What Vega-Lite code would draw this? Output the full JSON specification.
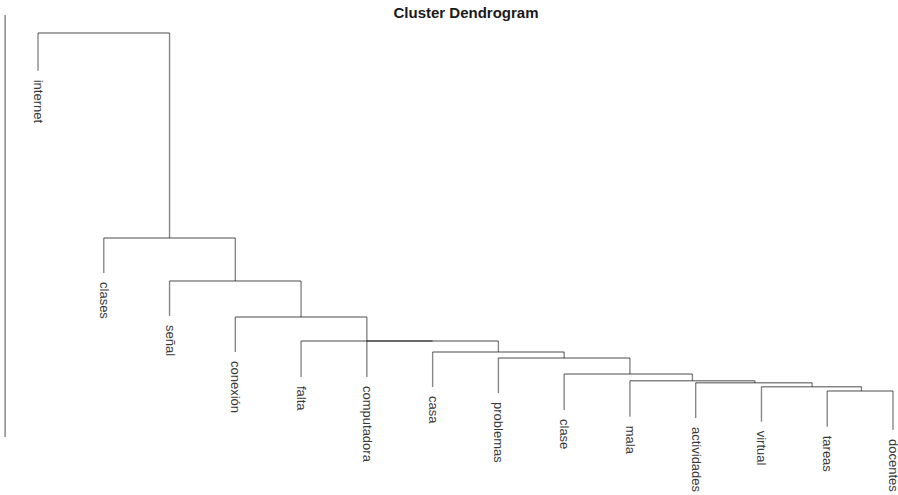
{
  "$schema": "https://vega.github.io/schema/vega-lite/v6.json",
  "width": 898,
  "height": 495,
  "padding": 0,
  "autosize": {"type": "none"},
  "background": "white",
  "title": {"text": "Cluster Dendrogram", "font": "Liberation Sans", "fontSize": 15, "fontWeight": "bold", "color": "#1a1a1a", "anchor": "middle", "dx": 17, "offset": -21, "frame": "group"},
  "config": {"view": {"stroke": null}},
  "datasets": {
    "segments": [
      {"x": 1, "x2": 3, "h": 95.73, "h2": 95.73},
      {"x": 1, "x2": 1, "h": 95.73, "h2": 86.8},
      {"x": 3, "x2": 3, "h": 95.73, "h2": 47.16},
      {"x": 2, "x2": 4, "h": 47.16, "h2": 47.16},
      {"x": 2, "x2": 2, "h": 47.16, "h2": 38.86},
      {"x": 4, "x2": 4, "h": 47.16, "h2": 36.97},
      {"x": 3, "x2": 5, "h": 36.97, "h2": 36.97},
      {"x": 3, "x2": 3, "h": 36.97, "h2": 28.67},
      {"x": 5, "x2": 5, "h": 36.97, "h2": 28.44},
      {"x": 4, "x2": 6, "h": 28.44, "h2": 28.44},
      {"x": 4, "x2": 4, "h": 28.44, "h2": 20.14},
      {"x": 6, "x2": 6, "h": 28.44, "h2": 14.22},
      {"x": 5, "x2": 7, "h": 22.75, "h2": 22.75},
      {"x": 6, "x2": 8, "h": 22.75, "h2": 22.75},
      {"x": 5, "x2": 5, "h": 22.75, "h2": 14.22},
      {"x": 8, "x2": 8, "h": 22.75, "h2": 20.14},
      {"x": 7, "x2": 9, "h": 20.14, "h2": 20.14},
      {"x": 7, "x2": 7, "h": 20.14, "h2": 11.85},
      {"x": 9, "x2": 9, "h": 20.14, "h2": 18.72},
      {"x": 8, "x2": 10, "h": 18.72, "h2": 18.72},
      {"x": 8, "x2": 8, "h": 18.72, "h2": 10.43},
      {"x": 10, "x2": 10, "h": 18.72, "h2": 14.93},
      {"x": 9, "x2": 10.95, "h": 14.93, "h2": 14.93},
      {"x": 9, "x2": 9, "h": 14.93, "h2": 6.4},
      {"x": 10.95, "x2": 10.95, "h": 14.93, "h2": 13.34},
      {"x": 10, "x2": 11.9, "h": 13.34, "h2": 13.34},
      {"x": 10, "x2": 10, "h": 13.34, "h2": 4.81},
      {"x": 11.9, "x2": 11.9, "h": 13.34, "h2": 12.87},
      {"x": 11, "x2": 12.77, "h": 12.87, "h2": 12.87},
      {"x": 11, "x2": 11, "h": 12.87, "h2": 4.5},
      {"x": 12.77, "x2": 12.77, "h": 12.87, "h2": 11.92},
      {"x": 12, "x2": 13.52, "h": 11.92, "h2": 11.92},
      {"x": 12, "x2": 12, "h": 11.92, "h2": 3.63},
      {"x": 13.52, "x2": 13.52, "h": 11.92, "h2": 10.9},
      {"x": 13, "x2": 14, "h": 10.9, "h2": 10.9},
      {"x": 13, "x2": 13, "h": 10.9, "h2": 2.44},
      {"x": 14, "x2": 14, "h": 10.9, "h2": 1.66}
    ],
    "axisline": [
      {"x": 0.5, "h": 0, "h2": 100}
    ],
    "leaves": [
      {"label": "internet", "x": 1, "h": 86.8},
      {"label": "clases", "x": 2, "h": 38.86},
      {"label": "señal", "x": 3, "h": 28.67},
      {"label": "conexión", "x": 4, "h": 20.14},
      {"label": "falta", "x": 5, "h": 14.22},
      {"label": "computadora", "x": 6, "h": 14.22},
      {"label": "casa", "x": 7, "h": 11.85},
      {"label": "problemas", "x": 8, "h": 10.43},
      {"label": "clase", "x": 9, "h": 6.4},
      {"label": "mala", "x": 10, "h": 4.81},
      {"label": "actividades", "x": 11, "h": 4.5},
      {"label": "virtual", "x": 12, "h": 3.63},
      {"label": "tareas", "x": 13, "h": 2.44},
      {"label": "docentes", "x": 14, "h": 1.66}
    ]
  },
  "layer": [
    {
      "data": {"name": "segments"},
      "mark": {"type": "rule", "stroke": "#000000", "strokeOpacity": 0.47, "strokeWidth": 1.4},
      "encoding": {
        "x": {"field": "x", "type": "quantitative", "scale": {"domain": [0.4222, 14.076], "nice": false, "zero": false}, "axis": null},
        "x2": {"field": "x2"},
        "y": {"field": "h", "type": "quantitative", "scale": {"domain": [-13.74, 103.55], "nice": false, "zero": false}, "axis": null},
        "y2": {"field": "h2"}
      }
    },
    {
      "data": {"name": "axisline"},
      "mark": {"type": "rule", "stroke": "#000000", "strokeOpacity": 0.5, "strokeWidth": 1.4},
      "encoding": {
        "x": {"field": "x", "type": "quantitative", "scale": {"domain": [0.4222, 14.076], "nice": false, "zero": false}, "axis": null},
        "y": {"field": "h", "type": "quantitative", "scale": {"domain": [-13.74, 103.55], "nice": false, "zero": false}, "axis": null},
        "y2": {"field": "h2"}
      }
    },
    {
      "data": {"name": "leaves"},
      "mark": {"type": "text", "angle": 90, "align": "left", "baseline": "middle", "dx": 9, "font": "Liberation Sans", "fontSize": 13, "fill": "#3a3a3a"},
      "encoding": {
        "x": {"field": "x", "type": "quantitative", "scale": {"domain": [0.4222, 14.076], "nice": false, "zero": false}, "axis": null},
        "y": {"field": "h", "type": "quantitative", "scale": {"domain": [-13.74, 103.55], "nice": false, "zero": false}, "axis": null},
        "text": {"field": "label"}
      }
    }
  ]
}
